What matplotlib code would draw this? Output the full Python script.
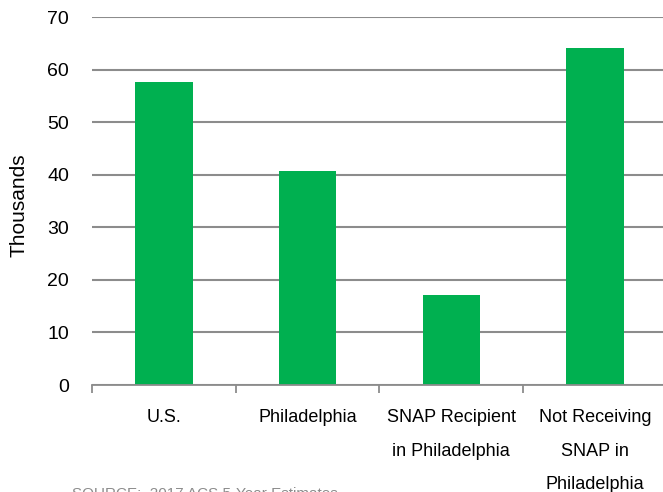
import matplotlib
matplotlib.use("Agg")
import matplotlib.pyplot as plt
import numpy as np

categories = ["U.S.", "Philadelphia", "SNAP Recipient\nin Philadelphia", "Not Receiving\nSNAP in\nPhiladelphia"]
values = [57.6, 40.7, 17.2, 64.1]
yticks = [0, 10, 20, 30, 40, 50, 60, 70]

plt.rcParams['font.family'] = ['Liberation Sans', 'DejaVu Sans']

W, H = 663, 492
fig = plt.figure(figsize=(W/100, H/100), dpi=100)
left, right = 92, 663
bottom, top = 492-385, 492-17
ax = fig.add_axes([left/W, bottom/H, (right-left)/W, (top-bottom)/H])

x = np.arange(len(categories))
ax.bar(x, values, width=0.40, color='#00B050', zorder=3)

ax.set_ylim(0, 70)
ax.set_xlim(-0.5, -0.5 + (right-left)/143.7)
ax.set_yticks(yticks)
ax.set_yticklabels([str(t) for t in yticks], fontsize=14, color='black')
ax.tick_params(axis='y', length=0, pad=16.5)
ax.yaxis.grid(True, color='#8c8c8c', linewidth=1.5, zorder=0)
ax.set_axisbelow(True)

ax.set_xticks(x)
ax.set_xticklabels(categories, fontsize=13, linespacing=2.3, color='black')
ax.set_xticks(np.arange(-0.5, 3.0, 1.0), minor=True)
ax.tick_params(axis='x', which='major', length=0, pad=17)
ax.tick_params(axis='x', which='minor', length=6, width=1.3, color='#8c8c8c', direction='out')

for s in ['top', 'right', 'left']:
    ax.spines[s].set_visible(False)
ax.spines['bottom'].set_color('#8c8c8c')
ax.spines['bottom'].set_linewidth(1.3)
ax.spines['bottom'].set_zorder(4)

ax.set_ylabel("Thousands", fontsize=15)
ax.yaxis.set_label_coords((29 - left)/(right-left), (385-205)/368)

fig.text(72/W, 1-487/H, "SOURCE:  2017 ACS 5-Year Estimates", fontsize=11,
         color='#8c8c8c', va='top', ha='left')

fig.savefig("out.png", dpi=100)
